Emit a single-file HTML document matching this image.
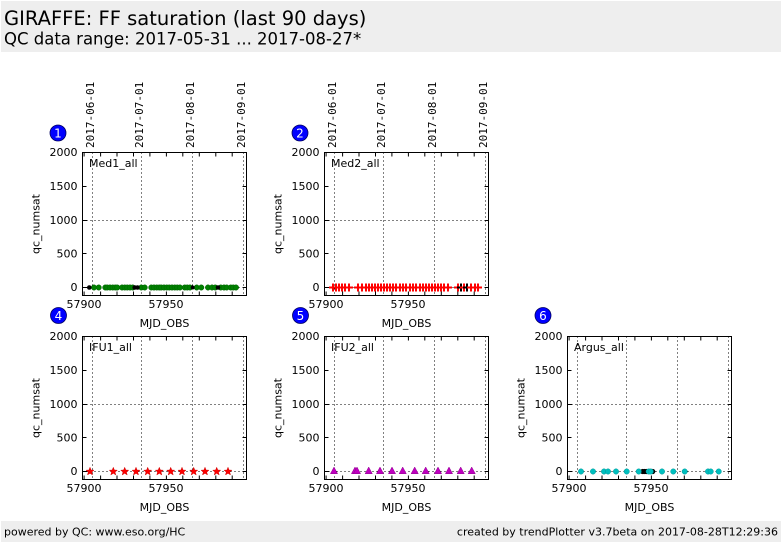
<!DOCTYPE html>
<html><head><meta charset="utf-8"><style>
html,body{margin:0;padding:0;background:#fff;}
svg{display:block;}
text{font-family:"DejaVu Sans","Liberation Sans",sans-serif;fill:#000;}
.t{font-size:11px;}
.m{font-family:"DejaVu Sans Mono","Liberation Mono",monospace;font-size:11px;}
.b{font-size:12px;fill:#fff;}
</style></head><body>
<svg width="782" height="542" viewBox="0 0 782 542" xmlns="http://www.w3.org/2000/svg">
<defs>
<g id="fr">
<path d="M92.5 152.5V295.5M141.5 152.5V295.5M192.5 152.5V295.5M243.5 152.5V295.5M82.5 220.5H246.5M82.5 287.5H246.5" stroke="#000" stroke-width="1" stroke-dasharray="1,3" fill="none"/>
<rect x="82.5" y="152.5" width="164" height="143" fill="none" stroke="#000" stroke-width="1"/>
<path d="M82.5 186.5h4M82.5 220.5h4M82.5 253.5h4M82.5 287.5h4M246.5 186.5h-4M246.5 220.5h-4M246.5 253.5h-4M246.5 287.5h-4M84.1 295.5v-4M100.6 295.5v-4M117 295.5v-4M133.5 295.5v-4M149.9 295.5v-4M166.4 295.5v-4M182.8 295.5v-4M199.3 295.5v-4M215.8 295.5v-4M232.2 295.5v-4M84.1 152.5v4M100.6 152.5v4M117 152.5v4M133.5 152.5v4M149.9 152.5v4M166.4 152.5v4M182.8 152.5v4M199.3 152.5v4M215.8 152.5v4M232.2 152.5v4" stroke="#000" stroke-width="1" fill="none"/>
</g>
<polygon id="star" points="0,-4.2 1.06,-1.46 3.99,-1.3 1.71,0.56 2.47,3.4 0,1.8 -2.47,3.4 -1.71,0.56 -3.99,-1.3 -1.06,-1.46" fill="#ff0000" stroke="#cc0000" stroke-width="0.5"/>
<polygon id="tri" points="0,-4 3.6,2.7 -3.6,2.7" fill="#bf00bf" stroke="#900090" stroke-width="0.5"/>
<path id="plus" d="M-4 0H4M0 -4V4" stroke="#ff0000" stroke-width="2" fill="none"/>
<path id="plusk" d="M-4 0H4M0 -4V4" stroke="#000" stroke-width="2" fill="none"/>
</defs>

<!-- header / footer -->
<rect x="1" y="1" width="780" height="51" fill="#eeeeee"/>
<text x="4" y="25" style="font-size:19.5px">GIRAFFE: FF saturation (last 90 days)</text>
<text x="4" y="44.5" style="font-size:16.5px">QC data range: 2017-05-31 ... 2017-08-27*</text>
<rect x="1" y="521" width="780" height="21" fill="#eeeeee"/>
<text x="4" y="535.5" class="t">powered by QC: www.eso.org/HC</text>
<text x="778" y="535.5" class="t" text-anchor="end">created by trendPlotter v3.7beta on 2017-08-28T12:29:36</text>

<!-- frames -->
<use href="#fr"/>
<use href="#fr" transform="translate(242,0)"/>
<use href="#fr" transform="translate(0,184)"/>
<use href="#fr" transform="translate(242,184)"/>
<use href="#fr" transform="translate(485,184)"/>

<!-- date labels row 1 -->
<text class="m" transform="translate(93.8,148) rotate(-90)">2017-06-01</text>
<text class="m" transform="translate(143.2,148) rotate(-90)">2017-07-01</text>
<text class="m" transform="translate(194.2,148) rotate(-90)">2017-08-01</text>
<text class="m" transform="translate(245.2,148) rotate(-90)">2017-09-01</text>
<text class="m" transform="translate(335.8,148) rotate(-90)">2017-06-01</text>
<text class="m" transform="translate(385.2,148) rotate(-90)">2017-07-01</text>
<text class="m" transform="translate(436.2,148) rotate(-90)">2017-08-01</text>
<text class="m" transform="translate(487.2,148) rotate(-90)">2017-09-01</text>

<!-- panel 1 text -->
<g>
<text class="t" x="77.5" y="156" text-anchor="end">2000</text>
<text class="t" x="77.5" y="190" text-anchor="end">1500</text>
<text class="t" x="77.5" y="224" text-anchor="end">1000</text>
<text class="t" x="77.5" y="257.5" text-anchor="end">500</text>
<text class="t" x="77.5" y="291" text-anchor="end">0</text>
<text class="t" x="84" y="308" text-anchor="middle">57900</text>
<text class="t" x="166" y="308" text-anchor="middle">57950</text>
<text class="t" x="164.5" y="327" text-anchor="middle">MJD_OBS</text>
<text class="t" transform="translate(39.5,224) rotate(-90)" text-anchor="middle">qc_numsat</text>
<text class="t" x="89" y="167">Med1_all</text>
<circle cx="58" cy="133" r="8" fill="#0000ff" stroke="#000060" stroke-width="0.8"/>
<text class="b" x="58" y="137.5" text-anchor="middle">1</text>
</g>
<g transform="translate(242,0)">
<text class="t" x="77.5" y="156" text-anchor="end">2000</text>
<text class="t" x="77.5" y="190" text-anchor="end">1500</text>
<text class="t" x="77.5" y="224" text-anchor="end">1000</text>
<text class="t" x="77.5" y="257.5" text-anchor="end">500</text>
<text class="t" x="77.5" y="291" text-anchor="end">0</text>
<text class="t" x="84" y="308" text-anchor="middle">57900</text>
<text class="t" x="166" y="308" text-anchor="middle">57950</text>
<text class="t" x="164.5" y="327" text-anchor="middle">MJD_OBS</text>
<text class="t" transform="translate(39.5,224) rotate(-90)" text-anchor="middle">qc_numsat</text>
<text class="t" x="89" y="167">Med2_all</text>
<circle cx="58" cy="133" r="8" fill="#0000ff" stroke="#000060" stroke-width="0.8"/>
<text class="b" x="58" y="137.5" text-anchor="middle">2</text>
</g>
<g transform="translate(0,184)">
<text class="t" x="77.5" y="156" text-anchor="end">2000</text>
<text class="t" x="77.5" y="190" text-anchor="end">1500</text>
<text class="t" x="77.5" y="224" text-anchor="end">1000</text>
<text class="t" x="77.5" y="257.5" text-anchor="end">500</text>
<text class="t" x="77.5" y="291" text-anchor="end">0</text>
<text class="t" x="84" y="308" text-anchor="middle">57900</text>
<text class="t" x="166" y="308" text-anchor="middle">57950</text>
<text class="t" x="164.5" y="327" text-anchor="middle">MJD_OBS</text>
<text class="t" transform="translate(39.5,224) rotate(-90)" text-anchor="middle">qc_numsat</text>
<text class="t" x="89" y="167">IFU1_all</text>
<circle cx="58.5" cy="131.5" r="8" fill="#0000ff" stroke="#000060" stroke-width="0.8"/>
<text class="b" x="58.5" y="136" text-anchor="middle">4</text>
</g>
<g transform="translate(242,184)">
<text class="t" x="77.5" y="156" text-anchor="end">2000</text>
<text class="t" x="77.5" y="190" text-anchor="end">1500</text>
<text class="t" x="77.5" y="224" text-anchor="end">1000</text>
<text class="t" x="77.5" y="257.5" text-anchor="end">500</text>
<text class="t" x="77.5" y="291" text-anchor="end">0</text>
<text class="t" x="84" y="308" text-anchor="middle">57900</text>
<text class="t" x="166" y="308" text-anchor="middle">57950</text>
<text class="t" x="164.5" y="327" text-anchor="middle">MJD_OBS</text>
<text class="t" transform="translate(39.5,224) rotate(-90)" text-anchor="middle">qc_numsat</text>
<text class="t" x="89" y="167">IFU2_all</text>
<circle cx="58.5" cy="131.5" r="8" fill="#0000ff" stroke="#000060" stroke-width="0.8"/>
<text class="b" x="58.5" y="136" text-anchor="middle">5</text>
</g>
<g transform="translate(485,184)">
<text class="t" x="77.5" y="156" text-anchor="end">2000</text>
<text class="t" x="77.5" y="190" text-anchor="end">1500</text>
<text class="t" x="77.5" y="224" text-anchor="end">1000</text>
<text class="t" x="77.5" y="257.5" text-anchor="end">500</text>
<text class="t" x="77.5" y="291" text-anchor="end">0</text>
<text class="t" x="84" y="308" text-anchor="middle">57900</text>
<text class="t" x="166" y="308" text-anchor="middle">57950</text>
<text class="t" x="164.5" y="327" text-anchor="middle">MJD_OBS</text>
<text class="t" transform="translate(39.5,224) rotate(-90)" text-anchor="middle">qc_numsat</text>
<text class="t" x="89" y="167">Argus_all</text>
<circle cx="58" cy="131.5" r="8" fill="#0000ff" stroke="#000060" stroke-width="0.8"/>
<text class="b" x="58" y="136" text-anchor="middle">6</text>
</g>

<!-- panel 1 data -->
<g fill="#008000" stroke="#006000" stroke-width="0.5">
<circle cx="94" cy="287.5" r="2.7"/><circle cx="98.7" cy="287.5" r="2.7"/><circle cx="105.3" cy="287.5" r="2.7"/><circle cx="107.3" cy="287.5" r="2.7"/><circle cx="110" cy="287.5" r="2.7"/><circle cx="112.7" cy="287.5" r="2.7"/><circle cx="115.3" cy="287.5" r="2.7"/><circle cx="117.3" cy="287.5" r="2.7"/><circle cx="122" cy="287.5" r="2.7"/><circle cx="124.7" cy="287.5" r="2.7"/><circle cx="127.3" cy="287.5" r="2.7"/><circle cx="130" cy="287.5" r="2.7"/><circle cx="132.7" cy="287.5" r="2.7"/><circle cx="141.3" cy="287.5" r="2.7"/><circle cx="144.7" cy="287.5" r="2.7"/><circle cx="151.3" cy="287.5" r="2.7"/><circle cx="154" cy="287.5" r="2.7"/><circle cx="156.7" cy="287.5" r="2.7"/><circle cx="159.3" cy="287.5" r="2.7"/><circle cx="161.3" cy="287.5" r="2.7"/><circle cx="164" cy="287.5" r="2.7"/><circle cx="166.7" cy="287.5" r="2.7"/><circle cx="169.3" cy="287.5" r="2.7"/><circle cx="172" cy="287.5" r="2.7"/><circle cx="174.7" cy="287.5" r="2.7"/><circle cx="177.3" cy="287.5" r="2.7"/><circle cx="180" cy="287.5" r="2.7"/><circle cx="184.7" cy="287.5" r="2.7"/><circle cx="187.3" cy="287.5" r="2.7"/><circle cx="190" cy="287.5" r="2.7"/><circle cx="196.7" cy="287.5" r="2.7"/><circle cx="201.3" cy="287.5" r="2.7"/><circle cx="208" cy="287.5" r="2.7"/><circle cx="212" cy="287.5" r="2.7"/><circle cx="215.3" cy="287.5" r="2.7"/><circle cx="220.7" cy="287.5" r="2.7"/><circle cx="224" cy="287.5" r="2.7"/><circle cx="226.7" cy="287.5" r="2.7"/><circle cx="230.7" cy="287.5" r="2.7"/><circle cx="233.3" cy="287.5" r="2.7"/><circle cx="236" cy="287.5" r="2.7"/>
</g>
<g fill="#000">
<circle cx="89.3" cy="287.5" r="2.3"/><circle cx="134.7" cy="287.5" r="2.3"/><circle cx="137.5" cy="287.5" r="2.3"/><circle cx="192.7" cy="287.5" r="2"/><circle cx="218" cy="287.5" r="2.3"/>
</g>

<!-- panel 2 data -->
<g>
<use href="#plus" x="333" y="287.5"/><use href="#plus" x="336" y="287.5"/><use href="#plus" x="339" y="287.5"/><use href="#plus" x="342" y="287.5"/><use href="#plus" x="345" y="287.5"/><use href="#plus" x="349" y="287.5"/>
<use href="#plus" x="358" y="287.5"/><use href="#plus" x="362" y="287.5"/><use href="#plus" x="366" y="287.5"/><use href="#plus" x="369" y="287.5"/><use href="#plus" x="372" y="287.5"/><use href="#plus" x="375" y="287.5"/><use href="#plus" x="378" y="287.5"/><use href="#plus" x="381" y="287.5"/><use href="#plus" x="384" y="287.5"/><use href="#plus" x="387" y="287.5"/><use href="#plus" x="390" y="287.5"/><use href="#plus" x="393" y="287.5"/><use href="#plus" x="396" y="287.5"/>
<use href="#plus" x="400" y="287.5"/><use href="#plus" x="403" y="287.5"/><use href="#plus" x="406" y="287.5"/><use href="#plus" x="410" y="287.5"/><use href="#plus" x="413" y="287.5"/><use href="#plus" x="416" y="287.5"/><use href="#plus" x="420" y="287.5"/><use href="#plus" x="423" y="287.5"/><use href="#plus" x="426" y="287.5"/><use href="#plus" x="429" y="287.5"/><use href="#plus" x="432" y="287.5"/><use href="#plus" x="435" y="287.5"/><use href="#plus" x="438" y="287.5"/><use href="#plus" x="441" y="287.5"/><use href="#plus" x="444" y="287.5"/><use href="#plus" x="448" y="287.5"/>
<use href="#plus" x="458" y="287.5"/><use href="#plusk" x="461" y="287.5"/><use href="#plus" x="464" y="287.5"/><use href="#plusk" x="467" y="287.5"/><use href="#plus" x="471" y="287.5"/><use href="#plus" x="475" y="287.5"/><use href="#plus" x="478" y="287.5"/>
</g>

<!-- panel 4 data -->
<g>
<use href="#star" x="90" y="471.5"/><use href="#star" x="113.3" y="471.5"/><use href="#star" x="124.7" y="471.5"/><use href="#star" x="136" y="471.5"/><use href="#star" x="147.7" y="471.5"/><use href="#star" x="159.3" y="471.5"/><use href="#star" x="170.7" y="471.5"/><use href="#star" x="182" y="471.5"/><use href="#star" x="193.7" y="471.5"/><use href="#star" x="205" y="471.5"/><use href="#star" x="216.7" y="471.5"/><use href="#star" x="228" y="471.5"/>
</g>

<!-- panel 5 data -->
<g>
<use href="#tri" x="334" y="471"/><use href="#tri" x="355" y="471"/><use href="#tri" x="357" y="471"/><use href="#tri" x="368.7" y="471"/><use href="#tri" x="380" y="471"/><use href="#tri" x="392" y="471"/><use href="#tri" x="402.7" y="471"/><use href="#tri" x="414.7" y="471"/><use href="#tri" x="425.7" y="471"/><use href="#tri" x="438" y="471"/><use href="#tri" x="449" y="471"/><use href="#tri" x="460.7" y="471"/><use href="#tri" x="471.7" y="471"/>
</g>

<!-- panel 6 data -->
<g fill="#000">
<circle cx="642.7" cy="471.5" r="2.6"/><circle cx="644.7" cy="471.5" r="2.6"/><circle cx="646.7" cy="471.5" r="2.6"/><circle cx="652.7" cy="471.5" r="2.6"/>
</g>
<g fill="#00bfbf" stroke="#009a9a" stroke-width="0.5">
<circle cx="581" cy="471.5" r="2.7"/><circle cx="593" cy="471.5" r="2.7"/><circle cx="604" cy="471.5" r="2.7"/><circle cx="608" cy="471.5" r="2.7"/><circle cx="616" cy="471.5" r="2.7"/><circle cx="626.7" cy="471.5" r="2.7"/><circle cx="638.7" cy="471.5" r="2.7"/><circle cx="648.7" cy="471.5" r="2.7"/><circle cx="650.7" cy="471.5" r="2.7"/><circle cx="662" cy="471.5" r="2.7"/><circle cx="673.3" cy="471.5" r="2.7"/><circle cx="684.7" cy="471.5" r="2.7"/><circle cx="708" cy="471.5" r="2.7"/><circle cx="710.7" cy="471.5" r="2.7"/><circle cx="718.7" cy="471.5" r="2.7"/>
</g>
</svg>
</body></html>
